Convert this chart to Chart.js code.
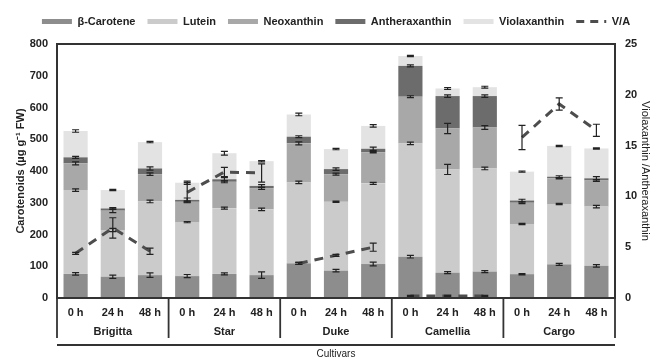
<!DOCTYPE html>
<html>
<head>
<meta charset="utf-8">
<script src="https://cdn.jsdelivr.net/npm/chart.js@4.4.1/dist/chart.umd.min.js"></script>
<style>
  html, body { margin: 0; padding: 0; background: #ffffff; }
  #wrap { width: 651px; height: 360px; }
</style>
</head>
<body>
<div id="wrap"><canvas id="c" width="651" height="360"></canvas></div>
<script>
// Cultivars and sampling times
const cultivars = ['Brigitta', 'Star', 'Duke', 'Camellia', 'Cargo'];
const hours = ['0 h', '24 h', '48 h'];

// Carotenoid contents (µg g-1 FW), one value per cultivar x time
const betaCarotene   = [76, 67, 72,   69, 76, 72,   109, 86, 107,  130, 80, 83,   75, 106, 101];
const lutein         = [264, 147, 232, 170, 207, 207, 255, 217, 254, 357, 325, 325, 158, 190, 187];
const neoxanthin     = [84, 61, 86,   64, 83, 66,   123, 87, 98,   147, 129, 129,  67, 81, 82];
const antheraxanthin = [19, 7, 18,    6, 8, 8,      21, 16, 11,    97, 102, 99,    7, 5, 7];
const violaxanthin   = [83, 58, 83,   54, 82, 78,   70, 63, 72,    31, 24, 28,     91, 97, 94];

// Standard errors of each pigment
const errBeta   = [4, 5, 7,   5, 3, 10,  3, 4, 6,   4, 3, 3,   2, 3, 4];
const errLutein = [4, 5, 4,   2, 3, 4,   4, 2, 3,   4, 16, 4,  2, 2, 4];
const errNeo    = [5, 6, 4,   3, 3, 3,   5, 3, 2,   3, 16, 6,  3, 2, 3];
const errAnth   = [3, 3, 5,   6, 5, 4,   3, 4, 5,   3, 4, 4,   4, 3, 5];
const errViola  = [4, 2, 2,   5, 6, 2,   4, 2, 4,   2, 3, 3,   2, 2, 2];

// Violaxanthin / antheraxanthin ratio and its error
const vaRatio = [4.4, 6.9, 4.6,  10.4, 12.4, 12.3,  3.4, 4.2, 5.0,  0.2, 0.2, 0.2,  15.8, 19.1, 16.5];
const vaError = [0.1, 1.0, 0.3,  0.95, 0.45, 0.9,  0.1, 0.1, 0.4,  0.05, 0.05, 0.05,  1.2, 0.6, 0.6];

// Axis ticks
const leftTicks = { min: 0, max: 800, step: 100 };
const rightTicks = { min: 0, max: 25, step: 5 };

const labels = cultivars.flatMap(() => hours);
const groupOf = i => Math.floor(i / hours.length);

const FONT = '"Liberation Sans", Arial, sans-serif';
const INK = '#222222';
const LINE_COLOR = '#4d4d4d';

const pigmentSets = [
  { label: 'β-Carotene',     data: betaCarotene,   color: '#8d8d8d', err: errBeta },
  { label: 'Lutein',         data: lutein,         color: '#cbcbcb', err: errLutein },
  { label: 'Neoxanthin',     data: neoxanthin,     color: '#a8a8a8', err: errNeo },
  { label: 'Antheraxanthin', data: antheraxanthin, color: '#6c6c6c', err: errAnth },
  { label: 'Violaxanthin',   data: violaxanthin,   color: '#e3e3e3', err: errViola }
];

const datasets = pigmentSets.map(p => ({
  type: 'bar',
  label: p.label,
  data: p.data,
  backgroundColor: p.color,
  borderWidth: 0,
  yAxisID: 'y',
  stack: 'pigments',
  barPercentage: 0.65,
  categoryPercentage: 1.0,
  order: 1
}));

datasets.push({
  type: 'line',
  label: 'V/A',
  data: vaRatio,
  yAxisID: 'y1',
  borderColor: LINE_COLOR,
  backgroundColor: LINE_COLOR,
  borderWidth: 3,
  borderDash: [9, 7],
  pointRadius: 0,
  fill: false,
  tension: 0,
  order: 0,
  segment: {
    borderColor: ctx => groupOf(ctx.p0DataIndex) !== groupOf(ctx.p1DataIndex) ? 'rgba(0,0,0,0)' : LINE_COLOR
  }
});

// Legend: a little extra room below it, and centred over the plot area
const legendPlacement = {
  id: 'legendPlacement',
  afterInit(chart) {
    const lg = chart.legend;
    if (!lg) return;
    const fit = lg.fit;
    lg.fit = function () { fit.call(this); this.height += 7; };
  },
  afterLayout(chart) {
    const lg = chart.legend;
    if (!lg) return;
    const a = chart.chartArea;
    const shift = (a.left + a.right) / 2 - (lg.left + lg.right) / 2;
    lg.left += shift;
    lg.right += shift;
  }
};

// Error bars on top of each stacked segment and on the ratio line
const errorBars = {
  id: 'errorBars',
  afterDatasetsDraw(chart) {
    const { ctx, scales } = chart;
    const x = scales.x, y = scales.y, y1 = scales.y1;
    const cap = 3.5;
    ctx.save();
    ctx.strokeStyle = INK;
    ctx.lineWidth = 1.2;
    const drawBar = (px, top, bottom) => {
      ctx.beginPath();
      ctx.moveTo(px, top); ctx.lineTo(px, bottom);
      ctx.moveTo(px - cap, top); ctx.lineTo(px + cap, top);
      ctx.moveTo(px - cap, bottom); ctx.lineTo(px + cap, bottom);
      ctx.stroke();
    };
    labels.forEach((_, i) => {
      const px = x.getPixelForValue(i);
      let cum = 0;
      pigmentSets.forEach(p => {
        cum += p.data[i];
        drawBar(px, y.getPixelForValue(cum + p.err[i]), y.getPixelForValue(cum - p.err[i]));
      });
      drawBar(px, y1.getPixelForValue(vaRatio[i] + vaError[i]), y1.getPixelForValue(vaRatio[i] - vaError[i]));
    });
    ctx.restore();
  }
};

// Plot frame, cultivar group separators and group names below the time labels
const frameAndGroups = {
  id: 'frameAndGroups',
  afterDraw(chart) {
    const { ctx, chartArea: a, scales } = chart;
    const x = scales.x;
    ctx.save();
    ctx.strokeStyle = '#333333';
    ctx.lineWidth = 2;
    ctx.strokeRect(a.left, a.top, a.right - a.left, a.bottom - a.top);

    const n = hours.length;
    const half = (x.getPixelForValue(1) - x.getPixelForValue(0)) / 2;
    ctx.lineWidth = 1.8;
    ctx.beginPath();
    for (let g = 0; g <= cultivars.length; g++) {
      const px = g === 0 ? x.getPixelForValue(0) - half : x.getPixelForValue(g * n - 1) + half;
      ctx.moveTo(px, a.bottom);
      ctx.lineTo(px, a.bottom + 40);
    }
    ctx.moveTo(a.left, a.bottom + 47);
    ctx.lineTo(a.right, a.bottom + 47);
    ctx.stroke();

    ctx.fillStyle = INK;
    ctx.textAlign = 'center';
    ctx.textBaseline = 'middle';
    ctx.font = 'bold 11px ' + FONT;
    cultivars.forEach((c, g) => {
      ctx.fillText(c, x.getPixelForValue(g * n + 1), a.bottom + 34);
    });
    ctx.font = '10px ' + FONT;
    ctx.fillText('Cultivars', (a.left + a.right) / 2, a.bottom + 56);
    ctx.restore();
  }
};

new Chart(document.getElementById('c'), {
  data: { labels, datasets },
  plugins: [legendPlacement, errorBars, frameAndGroups],
  options: {
    responsive: false,
    devicePixelRatio: 1,
    animation: false,
    layout: { padding: { top: 4, left: 0, right: 0, bottom: 0 } },
    plugins: {
      tooltip: { enabled: false },
      legend: {
        position: 'top',
        labels: {
          usePointStyle: true,
          pointStyleWidth: 30,
          boxHeight: 5,
          padding: 12,
          color: INK,
          font: { family: FONT, size: 11, weight: 'bold' },
          generateLabels(chart) {
            return chart.data.datasets.map((ds, i) => {
              const isLine = ds.type === 'line';
              return {
                text: ds.label,
                datasetIndex: i,
                fillStyle: isLine ? 'rgba(0,0,0,0)' : ds.backgroundColor,
                strokeStyle: isLine ? LINE_COLOR : ds.backgroundColor,
                lineWidth: isLine ? 3 : 0,
                lineDash: isLine ? [8, 6] : [],
                pointStyle: isLine ? 'line' : 'rect',
                fontColor: INK,
                hidden: false
              };
            });
          }
        }
      }
    },
    scales: {
      x: {
        stacked: true,
        grid: { display: false, drawTicks: false },
        border: { display: false },
        ticks: {
          color: INK,
          padding: 8,
          maxRotation: 0,
          autoSkip: false,
          font: { family: FONT, size: 11, weight: 'bold' }
        },
        afterFit(scale) { scale.height = 62; }
      },
      y: {
        type: 'linear',
        position: 'left',
        stacked: true,
        min: leftTicks.min,
        max: leftTicks.max,
        grid: { display: false, drawTicks: false },
        border: { display: false },
        ticks: {
          stepSize: leftTicks.step,
          color: INK,
          padding: 9,
          font: { family: FONT, size: 11, weight: 'bold' }
        },
        title: {
          display: true,
          text: 'Carotenoids (µg g⁻¹ FW)',
          color: INK,
          padding: { top: 14, bottom: 0 },
          font: { family: FONT, size: 11, weight: 'bold' }
        },
        afterFit(scale) { scale.width = 57; }
      },
      y1: {
        type: 'linear',
        position: 'right',
        stacked: false,
        min: rightTicks.min,
        max: rightTicks.max,
        grid: { display: false, drawTicks: false },
        border: { display: false },
        ticks: {
          stepSize: rightTicks.step,
          color: INK,
          padding: 10,
          font: { family: FONT, size: 11, weight: 'bold' }
        },
        title: {
          display: true,
          text: 'Violaxanthin /Antheraxanthin',
          color: INK,
          padding: { top: 0, bottom: 0 },
          font: { family: FONT, size: 11, lineHeight: 1 }
        },
        afterFit(scale) { scale.width = 36; }
      }
    }
  }
});
</script>
</body>
</html>
